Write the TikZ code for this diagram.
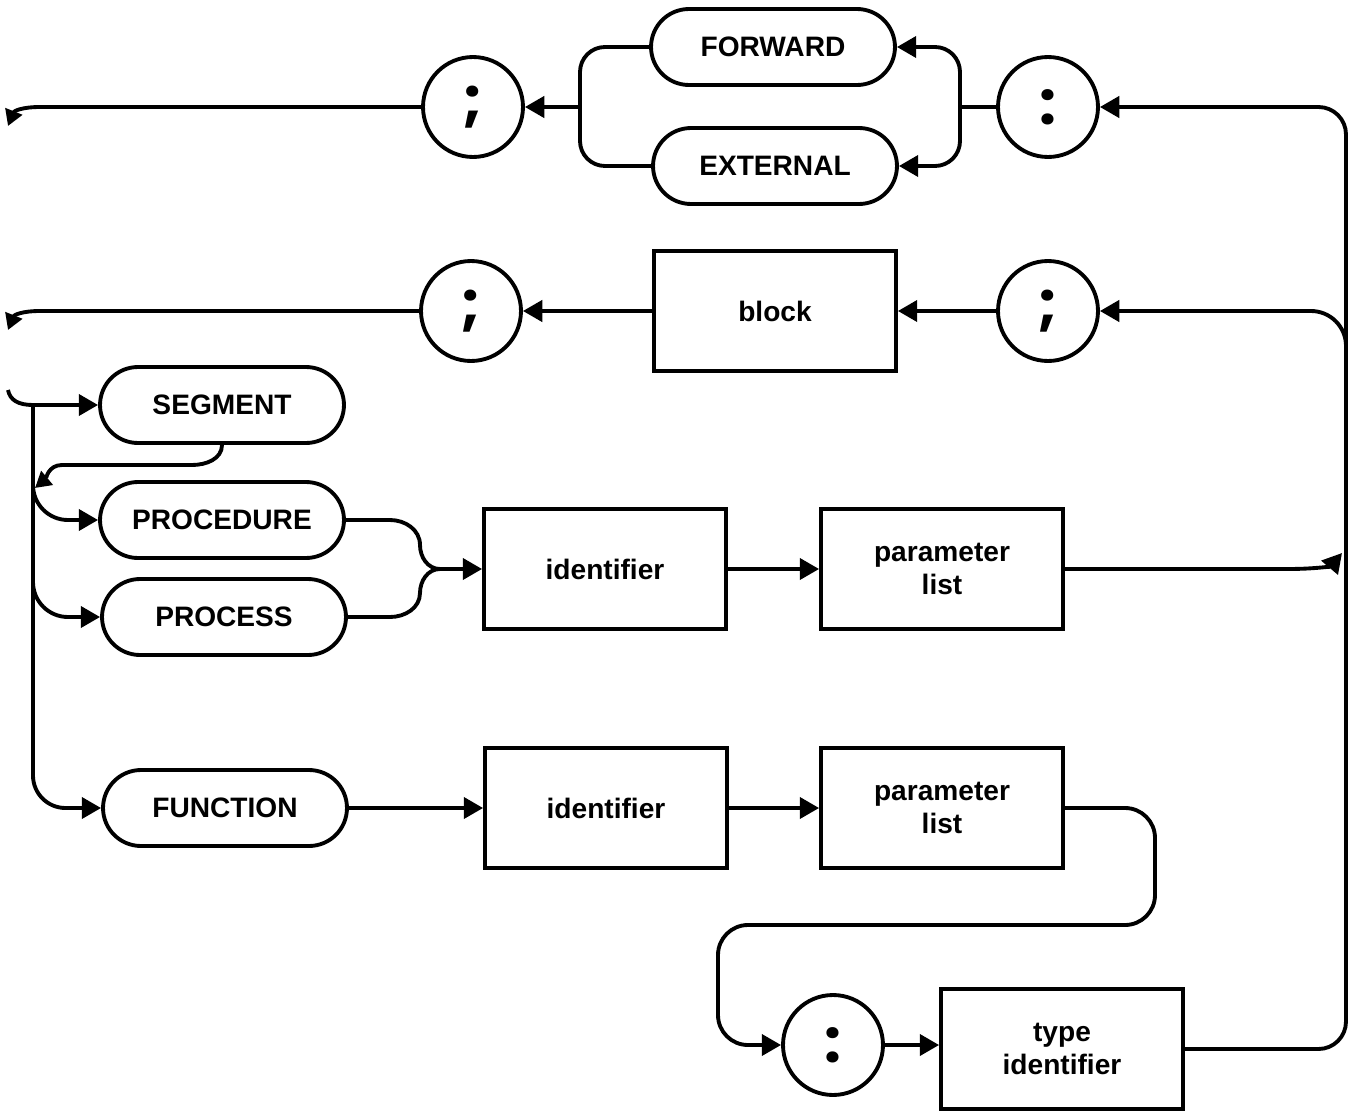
\documentclass[tikz,border=0pt]{standalone}
\usepackage{fontspec}
\setmainfont{Liberation Sans}
\newfontfamily\punctfont{Poppins}
\usetikzlibrary{
  arrows.meta,
  shapes.misc,
}
\tikzstyle{conn} = [
  line width=2.2pt,
  line join=round,
]
\tikzstyle{arrow} = [
  conn,
  -{Triangle[length=11pt,width=12pt]},
]
\tikzstyle{exit} = [
  conn,
  -{Triangle[length=9pt,width=10pt]},
]
\tikzstyle{keyword} = [
  draw,
  line width=2.2pt,
  rounded rectangle,
  minimum width=4.88cm,
  minimum height=1.52cm,
  inner sep=0pt,
  font=\fontsize{16}{19}\selectfont\bfseries,
]
\tikzstyle{nonterm} = [
  draw,
  line width=2.2pt,
  rectangle,
  minimum width=4.84cm,
  minimum height=2.4cm,
  align=center,
  font=\fontsize{16}{19}\selectfont\bfseries,
]
\tikzstyle{punct} = [
  draw,
  line width=2.2pt,
  circle,
  minimum size=2cm,
  inner sep=0pt,
  font=\punctfont\fontsize{34}{34}\selectfont\bfseries,
]

\begin{document}
\begin{tikzpicture}[x=0.02cm, y=-0.02cm]

        \useasboundingbox (0,0) rectangle (1356,1112);

        % top row: FORWARD / EXTERNAL
        \node [keyword] (fwd) at (773,47) {FORWARD};
        \node [keyword] (ext) at (775,166) {EXTERNAL};
        \node [punct] (s1) at (473,107) {;};
        \node [punct] (c1) at (1048,107) {:};

        % second row: block
        \node [punct] (s2) at (471,311) {;};
        \node [nonterm] (blk) at (775,311) {block};
        \node [punct] (s3) at (1048,311) {;};

        % headings
        \node [keyword] (seg) at (222,405) {SEGMENT};
        \node [keyword] (proc) at (222,520) {PROCEDURE};
        \node [keyword] (pcs) at (224,617) {PROCESS};
        \node [keyword] (fun) at (225,808) {FUNCTION};

        \node [nonterm] (id1) at (605,569) {identifier};
        \node [nonterm] (pl1) at (942,569) {parameter\\list};
        \node [nonterm] (id2) at (606,808) {identifier};
        \node [nonterm] (pl2) at (942,808) {parameter\\list};

        \node [punct] (c2) at (833,1045) {:};
        \node [nonterm] (tid) at (1062,1049) {type\\identifier};

        \coordinate (rb) at (960,107);
        \coordinate (lb) at (580,107);
        \coordinate (out1) at (8,126);
        \coordinate (out2) at (8,330);
        \coordinate (entry) at (8,390);
        \coordinate (jn) at (33,405);
        \coordinate (b1) at (33,478);
        \coordinate (b2) at (33,570);
        \coordinate (back) at (35,488);
        \coordinate (mrg) at (440,569);
        \coordinate (rbot) at (1346,1049);
        \coordinate (rtop) at (1346,107);
        \coordinate (r2) at (1346,390);
        \coordinate (rin) at (1342,553);
        \coordinate (t1) at (1155,925);
        \coordinate (t2) at (718,925);

        % right-hand rail
        \draw [arrow, rounded corners=0.55cm] (tid.east) -- (rbot) -- (rtop) -- (c1.east);

        \draw [conn] (c1.west) -- (rb);
        \draw [arrow, rounded corners=0.5cm] (rb) |- (fwd.east);
        \draw [arrow, rounded corners=0.5cm] (rb) |- (ext.east);
        \draw [conn, rounded corners=0.5cm] (fwd.west) -| (lb);
        \draw [conn, rounded corners=0.5cm] (ext.west) -| (lb);
        \draw [arrow] (lb) -- (s1.east);
        \draw [exit] (s1.west) -- (40,107) .. controls (22,107) and (14,111) .. (out1);

        \draw [arrow, rounded corners=0.7cm] (r2) |- (s3.east);
        \draw [arrow] (s3.west) -- (blk.east);
        \draw [arrow] (blk.west) -- (s2.east);
        \draw [exit] (s2.west) -- (40,311) .. controls (22,311) and (14,315) .. (out2);

        \draw [arrow] (entry) .. controls (10,400) and (18,405) .. (jn) -- (seg.west);
        \draw [arrow, rounded corners=0.65cm] (jn) |- (fun.west);
        \draw [arrow, rounded corners=0.7cm] (b1) |- (proc.west);
        \draw [arrow, rounded corners=0.7cm] (b2) |- (pcs.west);
        \draw [exit] (seg.south) to [out=-90, in=0] (192,465) -- (62,465)
              to [out=180, in=40] (back);

        \draw [conn] (proc.east) -- (390,520) to [out=0, in=90] (420,545)
              to [out=-90, in=180] (mrg);
        \draw [conn] (pcs.east) -- (390,617) to [out=0, in=-90] (420,593)
              to [out=90, in=180] (mrg);
        \draw [arrow] (mrg) -- (id1.west);
        \draw [arrow] (id1.east) -- (pl1.west);
        \draw [arrow] (pl1.east) -- (1288,569) .. controls (1316,569) and (1331,566) .. (rin);

        \draw [arrow] (fun.east) -- (id2.west);
        \draw [arrow] (id2.east) -- (pl2.west);
        \draw [arrow, rounded corners=0.6cm] (pl2.east) -| (t1) -- (t2) |- (c2.west);
        \draw [arrow] (c2.east) -- (c2.east -| tid.west);

\end{tikzpicture}
\end{document}
